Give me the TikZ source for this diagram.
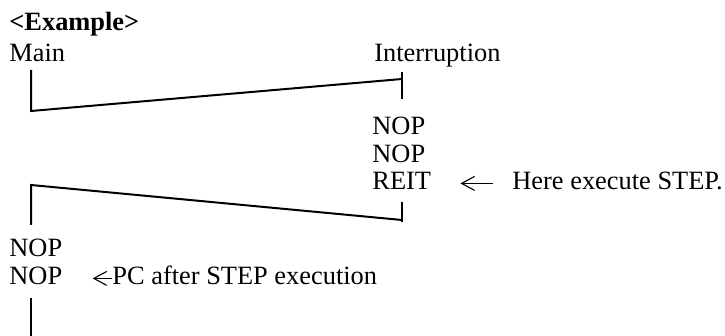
\documentclass[tikz,border=0pt]{standalone}
\usepackage{fontspec}
\setmainfont{Liberation Serif}
\usetikzlibrary{arrows.meta}

\begin{document}
\begin{tikzpicture}[
    x=0.5pt, y=-0.5pt,
    font=\fontsize{13.2}{15}\selectfont,
    % Styles
    txt/.style={anchor=base west, inner sep=0pt},
    flow/.style={line width=1pt},
    ptr/.style={-{Straight Barb[length=6.5pt, width=7pt]}, line width=0.55pt}
]
    \useasboundingbox (0,0) rectangle (725,336);

    % --- HEADINGS ---
    \node[txt, font=\fontsize{13.2}{15}\selectfont\bfseries] (title) at (9,31) {<Example>};
    \node[txt] (main) at (9,62) {Main};
    \node[txt] (intr) at (374,62) {Interruption};

    % --- INTERRUPT ROUTINE ---
    \node[txt] (nopA) at (372,135) {NOP};
    \node[txt] (nopB) at (372,163) {NOP};
    \node[txt] (reit) at (372,190) {REIT};
    \node[txt] (here) at (512,190) {Here execute STEP.};

    % --- BACK IN MAIN ---
    \node[txt] (nopC) at (9,257) {NOP};
    \node[txt] (nopD) at (9,285) {NOP};
    \node[txt] (pc) at (112,285) {PC after STEP execution};

    % --- FLOW LINE ---
    \coordinate (m0) at (31,70);
    \coordinate (m1) at (31,111);
    \coordinate (i0) at (402,72);
    \coordinate (i1) at (402,79);
    \coordinate (i2) at (402,99);
    \coordinate (r0) at (402,202);
    \coordinate (r1) at (402,220);
    \coordinate (r2) at (402,222);
    \coordinate (b0) at (31,185);
    \coordinate (b1) at (31,225);
    \coordinate (e0) at (31,298);
    \coordinate (e1) at (31,336);

    \draw[flow] (m0) -- (m1) -- (i1);
    \draw[flow] (i0) -- (i2);
    \draw[flow] (r0) -- (r2);
    \draw[flow] (r1) -- (b0) -- (b1);
    \draw[flow] (e0) -- (e1);

    % --- POINTERS ---
    \draw[ptr, shorten <=9.5pt, shorten >=14.5pt] ([yshift=1pt]here.mid west) -- ([yshift=1pt]reit.mid east);
    \draw[ptr, shorten >=15pt] ([yshift=1pt]pc.mid west) -- ([yshift=1pt]nopD.mid east);

\end{tikzpicture}
\end{document}
